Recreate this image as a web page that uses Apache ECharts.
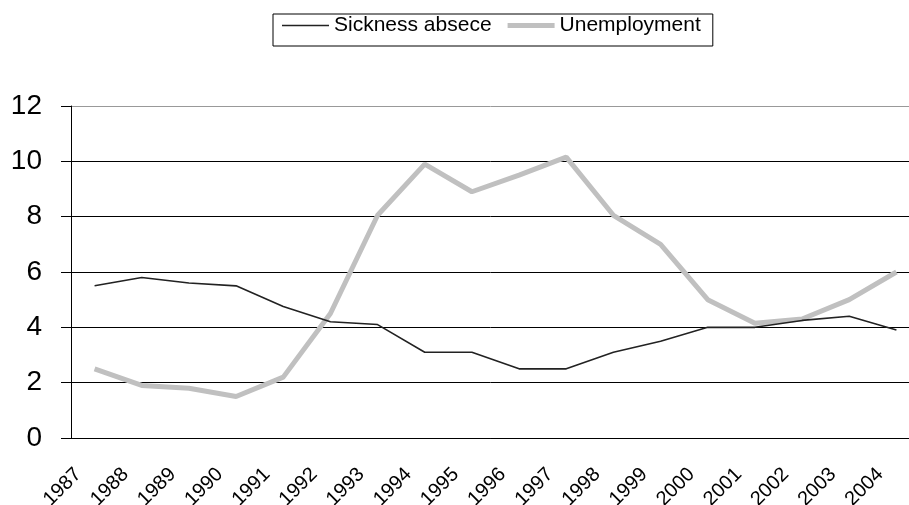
<!DOCTYPE html>
<html>
<head>
<meta charset="utf-8">
<script src="https://cdn.jsdelivr.net/npm/echarts@6/dist/echarts.min.js"></script>
<style>
  html, body { margin: 0; padding: 0; background: #fff; }
  #chart { width: 909px; height: 505px; }
</style>
</head>
<body>
<div id="chart"></div>
<script>
const years = ['1987', '1988', '1989', '1990', '1991', '1992', '1993', '1994', '1995',
  '1996', '1997', '1998', '1999', '2000', '2001', '2002', '2003', '2004']
const sickness = [5.5, 5.8, 5.6, 5.5, 4.75, 4.2, 4.1, 3.1, 3.1, 2.5, 2.5, 3.1, 3.5, 4.0, 4.0, 4.25, 4.4, 3.9]
const unemployment = [2.5, 1.9, 1.8, 1.5, 2.2, 4.5, 8.05, 9.9, 8.9, 9.5, 10.15, 8.05, 7.0, 5.0, 4.15, 4.3, 5.0, 6.0]
const yTicks = { min: 0, max: 12, interval: 2 }

const font = "'Liberation Sans', Arial, sans-serif"
const chart = echarts.init(document.getElementById('chart'))

chart.setOption({
  animation: false,
  backgroundColor: '#fff',
  legend: {
    left: 273,
    top: 14,
    padding: [1, 12, 10, 9],
    borderColor: '#000',
    borderWidth: 1,
    itemWidth: 47,
    itemHeight: 14,
    itemGap: 16,
    textStyle: { fontFamily: font, fontSize: 21, color: '#000', lineHeight: 20 },
    data: [
      { name: 'Sickness absece', icon: 'path://M0,0H47V1.5H0Z', itemStyle: { color: '#222' } },
      { name: 'Unemployment', icon: 'path://M0,0H47V5H0Z', itemStyle: { color: '#c0c0c0' } },
    ],
  },
  // plot runs past the right edge like the cropped original
  grid: { left: 71, top: 106, width: 849, bottom: 67, outerBoundsMode: 'none', containLabel: false },
  xAxis: {
    type: 'category',
    data: years,
    boundaryGap: true,
    axisLine: { lineStyle: { color: '#000', width: 1 } },
    axisTick: { length: 6, lineStyle: { color: '#000' } },
    axisLabel: {
      interval: 0,
      rotate: 45,
      margin: 17,
      padding: [0, 23, 0, 0],
      fontFamily: font,
      fontSize: 20,
      color: '#000',
    },
    splitLine: { show: false },
  },
  yAxis: {
    type: 'value',
    min: yTicks.min,
    max: yTicks.max,
    interval: yTicks.interval,
    axisLine: { show: true, lineStyle: { color: '#000', width: 1 } },
    axisTick: { show: true, length: 10, lineStyle: { color: '#000' } },
    axisLabel: { margin: 29, fontFamily: font, fontSize: 28, color: '#000' },
    splitLine: {
      lineStyle: { color: ['#000', '#000', '#000', '#000', '#000', '#000', '#999'], width: 1 },
    },
  },
  series: [
    {
      name: 'Unemployment',
      type: 'line',
      data: unemployment,
      symbol: 'none',
      z: 2,
      lineStyle: { color: '#c0c0c0', width: 5 },
      itemStyle: { color: '#c0c0c0' },
    },
    {
      name: 'Sickness absece',
      type: 'line',
      data: sickness,
      symbol: 'none',
      z: 3,
      lineStyle: { color: '#222', width: 1.6 },
      itemStyle: { color: '#222' },
    },
  ],
})
</script>
</body>
</html>
